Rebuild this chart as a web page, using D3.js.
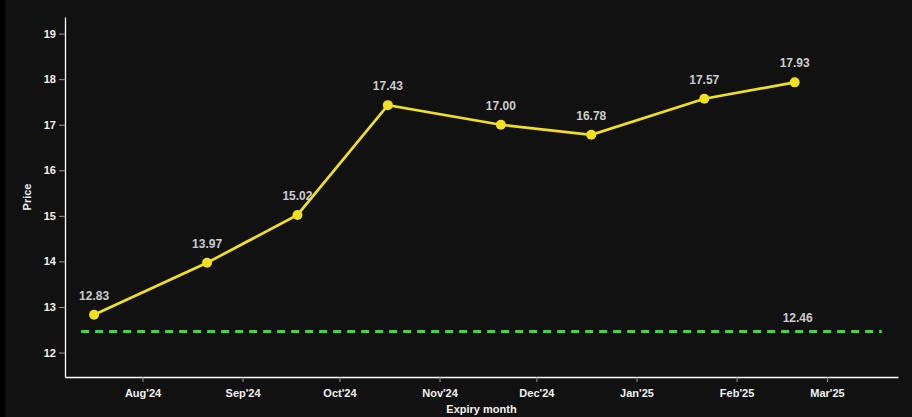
<!DOCTYPE html>
<html>
<head>
<meta charset="utf-8">
<script src="https://cdn.jsdelivr.net/npm/d3@7"></script>
<style>
  html, body { margin: 0; padding: 0; background: #000; }
  svg { display: block; font-family: "Liberation Sans", Arial, sans-serif; }
</style>
</head>
<body>
<div id="chart"></div>
<script>
// expiry dates (VIX futures), prices, reference level
var expiryDates = ['2024-07-17', '2024-08-21', '2024-09-18', '2024-10-16',
                   '2024-11-20', '2024-12-18', '2025-01-22', '2025-02-19'];
var prices = [12.83, 13.97, 15.02, 17.43, 17.00, 16.78, 17.57, 17.93];
var spotLevel = 12.46;
var spotSpan = ['2024-07-13', '2025-03-18'];
var xDomain = ['2024-07-08', '2025-03-23'];

var width = 912,
    height = 417,
    margin = {top: 17, right: 14, bottom: 40, left: 65};

var parse = d3.timeParse('%Y-%m-%d');
var data = expiryDates.map(function(d, i){
    return {date: parse(d), price: prices[i]};
});

var svg = d3.select('#chart').append('svg')
    .attr('width', width).attr('height', height);

svg.append('rect')
    .attr('x', 5).attr('y', 0)
    .attr('width', width - 5).attr('height', height)
    .attr('fill', '#111');

var x = d3.scaleTime()
    .domain(xDomain.map(parse))
    .range([margin.left, width - margin.right]);

var yMin = d3.min(prices.concat([spotLevel])) * 0.92,
    yMax = d3.max(prices) * 1.08;
var y = d3.scaleLinear()
    .domain([yMin, yMax])
    .range([height - margin.bottom, margin.top]);

// axes
var xAxis = svg.append('g')
    .attr('transform', 'translate(0,' + (height - margin.bottom) + ')')
    .call(d3.axisBottom(x).ticks(d3.timeMonth.every(1))
        .tickFormat(d3.timeFormat("%b'%y"))
        .tickSizeInner(5).tickSizeOuter(0).tickPadding(7));

var yAxis = svg.append('g')
    .attr('transform', 'translate(' + margin.left + ',0)')
    .call(d3.axisLeft(y).ticks(8)
        .tickSizeInner(6).tickSizeOuter(0).tickPadding(3));

[xAxis, yAxis].forEach(function(a){
    a.select('.domain').attr('stroke', '#fff').attr('stroke-width', 1.3);
    a.selectAll('.tick line').attr('stroke', '#999');
    a.selectAll('.tick text')
        .attr('fill', '#f2f2f2')
        .style('font-size', '11px')
        .style('font-weight', 'bold');
});

svg.append('text')
    .attr('x', (margin.left + width - margin.right) / 2)
    .attr('y', height - 4)
    .attr('text-anchor', 'middle')
    .attr('fill', '#f2f2f2')
    .style('font-size', '11px').style('font-weight', 'bold')
    .text('Expiry month');

svg.append('text')
    .attr('transform', 'translate(31,' + ((margin.top + height - margin.bottom) / 2) + ')rotate(-90)')
    .attr('text-anchor', 'middle')
    .attr('fill', '#f2f2f2')
    .style('font-size', '11px').style('font-weight', 'bold')
    .text('Price');

// spot reference line
svg.append('line')
    .attr('x1', x(parse(spotSpan[0]))).attr('x2', x(parse(spotSpan[1])))
    .attr('y1', y(spotLevel)).attr('y2', y(spotLevel))
    .attr('stroke', '#33e033').attr('stroke-width', 3)
    .attr('stroke-dasharray', '8,6');

svg.append('text')
    .attr('x', x(data[data.length - 1].date) + 3)
    .attr('y', y(spotLevel) - 10)
    .attr('text-anchor', 'middle')
    .attr('fill', '#ccc')
    .style('font-size', '12px').style('font-weight', 'bold')
    .text(spotLevel.toFixed(2));

// futures curve
var line = d3.line()
    .x(function(d){ return x(d.date); })
    .y(function(d){ return y(d.price); });

svg.append('path')
    .datum(data)
    .attr('d', line)
    .attr('fill', 'none')
    .attr('stroke', '#f1e01f')
    .attr('stroke-width', 2.7);

svg.selectAll('circle.pt')
    .data(data).enter().append('circle')
        .attr('class', 'pt')
        .attr('cx', function(d){ return x(d.date); })
        .attr('cy', function(d){ return y(d.price); })
        .attr('r', 5)
        .attr('fill', '#f1e01f');

svg.selectAll('text.lbl')
    .data(data).enter().append('text')
        .attr('class', 'lbl')
        .attr('x', function(d){ return x(d.date); })
        .attr('y', function(d){ return y(d.price) - 15; })
        .attr('text-anchor', 'middle')
        .attr('fill', '#ccc')
        .style('font-size', '12px').style('font-weight', 'bold')
        .text(function(d){ return d.price.toFixed(2); });
</script>
</body>
</html>
